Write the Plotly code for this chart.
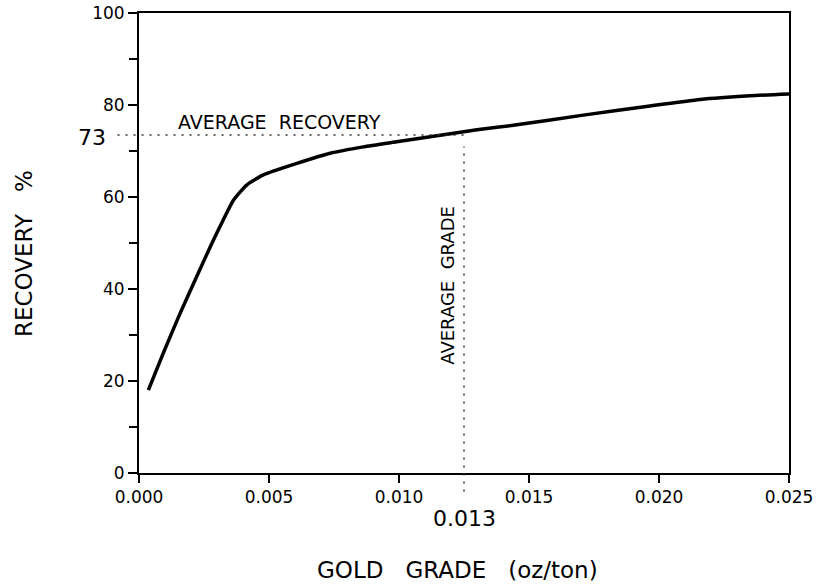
import plotly.graph_objects as go

# Data
grade = [0.00036, 0.00093, 0.00158, 0.00222, 0.0028, 0.00324, 0.00363, 0.00414,
         0.00478, 0.00607, 0.00735, 0.00863, 0.00991, 0.0112, 0.0130, 0.01453,
         0.01709, 0.01965, 0.02158, 0.0235, 0.025]
recovery = [18.0, 26.0, 34.7, 42.7, 49.9, 55.0, 59.3, 62.6,
            64.8, 67.3, 69.5, 70.9, 72.0, 73.1, 74.6, 75.7,
            77.8, 79.8, 81.2, 82.0, 82.4]

avg_grade = 0.0125
avg_recovery = 73.5
avg_grade_label = "0.013"
avg_recovery_label = "73"

x_ticks = [0.0, 0.005, 0.010, 0.015, 0.020, 0.025]
x_tick_text = ["0.000", "0.005", "0.010", "0.015", "0.020", "0.025"]
y_ticks = [0, 20, 40, 60, 80, 100]
X_MAX = 0.025

NB = "\u00a0"
FONT = "DejaVu Sans"

fig = go.Figure()
fig.add_trace(go.Scatter(
    x=grade, y=recovery, mode="lines",
    line=dict(color="black", width=3.5, shape="spline", smoothing=0.5),
    showlegend=False, hoverinfo="skip"))

dot = dict(color="#333333", width=1.5, dash="2px,6px")
# average recovery (horizontal dotted line, extends left of the axis)
fig.add_shape(type="line", xref="paper", yref="y",
              x0=-0.033, x1=avg_grade / X_MAX, y0=avg_recovery, y1=avg_recovery,
              line=dot)
# average grade (vertical dotted line, extends below the axis)
fig.add_shape(type="line", xref="x", yref="paper",
              x0=avg_grade, x1=avg_grade, y0=-0.04, y1=0.71,
              line=dot)

C = dict(xanchor="center", yanchor="middle", showarrow=False)
ann = []
ann.append(dict(text="AVERAGE" + NB * 2 + "RECOVERY", xref="x", yref="y",
                x=0.00542, y=76.3, **C,
                font=dict(family=FONT, size=19, color="black")))
ann.append(dict(text="AVERAGE" + NB * 2 + "GRADE", xref="x", yref="y",
                x=0.01188, y=40.9, textangle=-90, **C,
                font=dict(family=FONT, size=18, color="black")))
ann.append(dict(text=avg_recovery_label, xref="paper", yref="y",
                x=-0.072, y=73.0, **C,
                font=dict(family=FONT, size=22, color="black")))
ann.append(dict(text=avg_grade_label, xref="x", yref="paper",
                x=avg_grade, y=-0.098, **C,
                font=dict(family=FONT, size=22, color="black")))
ann.append(dict(text="GOLD" + NB * 3 + "GRADE" + NB * 3 + "(oz/ton)", xref="paper", yref="paper",
                x=0.49, y=-0.211, **C,
                font=dict(family=FONT, size=23, color="black")))
ann.append(dict(text="RECOVERY" + NB * 3 + "%", xref="paper", yref="paper",
                x=-0.177, y=0.478, textangle=-90, **C,
                font=dict(family=FONT, size=23, color="black")))

fig.update_layout(
    width=818, height=587,
    margin=dict(l=139, r=29, t=13, b=114, autoexpand=False),
    paper_bgcolor="white", plot_bgcolor="white",
    annotations=ann,
    xaxis=dict(range=[0, X_MAX], tickvals=x_ticks, ticktext=x_tick_text,
               ticks="outside", ticklen=8, tickwidth=1.5, tickcolor="black",
               showline=True, linecolor="black", linewidth=2, mirror=True,
               showgrid=False, zeroline=False, automargin=False,
               tickfont=dict(family=FONT, size=17, color="black")),
    yaxis=dict(range=[0, 100], tickvals=y_ticks,
               ticks="outside", ticklen=9, tickwidth=1.5, tickcolor="black",
               minor=dict(dtick=10, ticks="outside", ticklen=8, tickwidth=1.5,
                          tickcolor="black"),
               showline=True, linecolor="black", linewidth=2, mirror=True,
               showgrid=False, zeroline=False, automargin=False,
               tickfont=dict(family=FONT, size=17, color="black")),
)

# remove the default 8px page margin so the figure sits at the window's corner
fig.write_html("out.html", config={"displayModeBar": False},
               post_script="document.body.style.margin='0';document.body.style.overflow='hidden';")
